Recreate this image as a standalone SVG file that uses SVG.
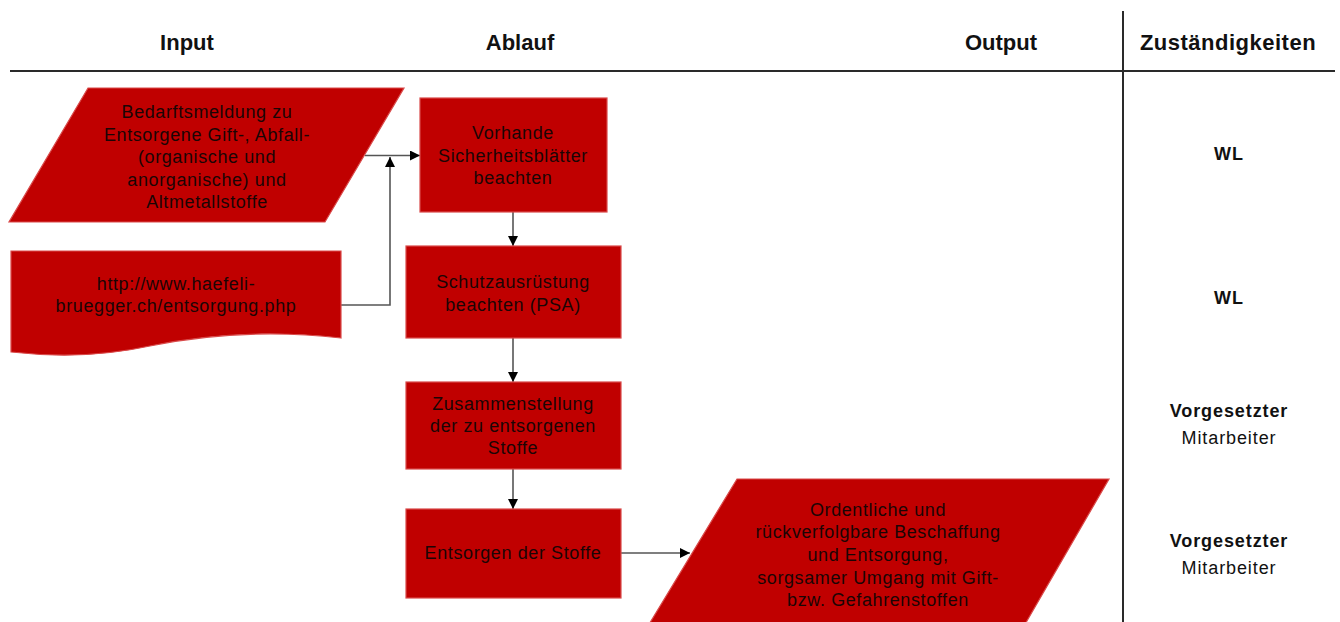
<svg xmlns="http://www.w3.org/2000/svg" width="1340" height="622" viewBox="0 0 1340 622">
  <style>
    .hdr { font-family: "Liberation Sans", Arial, sans-serif; font-weight: bold; font-size: 22px; fill: #111; text-anchor: middle; }
    .shape { fill: #c00000; stroke: #d94a4a; stroke-width: 1.2; }
    .lbl { font-family: "Liberation Sans", Arial, sans-serif; font-size: 18px; fill: #1a0505; text-anchor: middle; letter-spacing: 0.6px; }
    .role { font-family: "Liberation Sans", Arial, sans-serif; font-size: 18px; fill: #111; text-anchor: middle; letter-spacing: 0.9px; }
    .role b, .bold { font-weight: bold; }
    .grid { stroke: #2a2a2a; stroke-width: 2; fill: none; }
    .conn { stroke: #555; stroke-width: 1.6; fill: none; }
  </style>
  <defs>
    <marker id="arrow" viewBox="0 0 10 10" refX="10" refY="5" markerWidth="10" markerHeight="10" markerUnits="userSpaceOnUse" orient="auto">
      <path d="M0,0 L10,5 L0,10 Z" fill="#000"/>
    </marker>
  </defs>
  <rect width="1340" height="622" fill="#fff"/>

  <!-- table frame -->
  <g id="frame">
    <line class="grid" x1="10" y1="71" x2="1335" y2="71"/>
    <line class="grid" x1="1123" y1="11" x2="1123" y2="622"/>
    <text class="hdr" x="187" y="50">Input</text>
    <text class="hdr" x="520" y="50">Ablauf</text>
    <text class="hdr" x="1001" y="50">Output</text>
    <text class="hdr" x="1228" y="50" letter-spacing="0.5">Zuständigkeiten</text>
  </g>

  <!-- connectors -->
  <g id="connectors">
    <line class="conn" x1="365" y1="155.5" x2="420" y2="155.5" marker-end="url(#arrow)"/>
    <polyline class="conn" points="341,305 390,305 390,157" marker-end="url(#arrow)"/>
    <line class="conn" x1="513" y1="212" x2="513" y2="246" marker-end="url(#arrow)"/>
    <line class="conn" x1="513" y1="338" x2="513" y2="382" marker-end="url(#arrow)"/>
    <line class="conn" x1="513" y1="469" x2="513" y2="509" marker-end="url(#arrow)"/>
    <line class="conn" x1="621" y1="553" x2="690" y2="553" marker-end="url(#arrow)"/>
  </g>

  <!-- input: request -->
  <g id="input-request">
    <polygon class="shape" points="88,88 404,88 325,222 9,222"/>
    <text class="lbl" x="207" y="118">Bedarftsmeldung zu</text>
    <text class="lbl" x="207" y="141">Entsorgene Gift-, Abfall-</text>
    <text class="lbl" x="207" y="163">(organische und</text>
    <text class="lbl" x="207" y="186">anorganische) und</text>
    <text class="lbl" x="207" y="208">Altmetallstoffe</text>
  </g>

  <!-- input: web document -->
  <g id="input-document">
    <path class="shape" d="M11,251 H341 V338 C 270,330 210,334 150,346 C 100,357 55,357 11,352 Z"/>
    <text class="lbl" x="176" y="290">http://www.haefeli-</text>
    <text class="lbl" x="176" y="312">bruegger.ch/entsorgung.php</text>
  </g>

  <!-- process steps -->
  <g id="step-datasheets">
    <rect class="shape" x="420" y="98" width="187" height="114"/>
    <text class="lbl" x="513" y="139">Vorhande</text>
    <text class="lbl" x="513" y="162">Sicherheitsblätter</text>
    <text class="lbl" x="513" y="184">beachten</text>
  </g>

  <g id="step-ppe">
    <rect class="shape" x="406" y="246" width="215" height="92"/>
    <text class="lbl" x="513" y="288">Schutzausrüstung</text>
    <text class="lbl" x="513" y="311">beachten (PSA)</text>
  </g>

  <g id="step-collect">
    <rect class="shape" x="406" y="382" width="215" height="87"/>
    <text class="lbl" x="513" y="410">Zusammenstellung</text>
    <text class="lbl" x="513" y="432">der zu entsorgenen</text>
    <text class="lbl" x="513" y="454">Stoffe</text>
  </g>

  <g id="step-dispose">
    <rect class="shape" x="406" y="509" width="215" height="89"/>
    <text class="lbl" x="513" y="559">Entsorgen der Stoffe</text>
  </g>

  <!-- output -->
  <g id="output-result">
    <polygon class="shape" points="737,479 1109,479 1024,626 648,626"/>
    <text class="lbl" x="878" y="516">Ordentliche und</text>
    <text class="lbl" x="878" y="538">rückverfolgbare Beschaffung</text>
    <text class="lbl" x="878" y="561">und Entsorgung,</text>
    <text class="lbl" x="878" y="584">sorgsamer Umgang mit Gift-</text>
    <text class="lbl" x="878" y="606">bzw. Gefahrenstoffen</text>
  </g>

  <!-- responsibilities -->
  <g id="roles">
    <text class="role bold" x="1229" y="160">WL</text>
    <text class="role bold" x="1229" y="304">WL</text>
    <text class="role bold" x="1229" y="417">Vorgesetzter</text>
    <text class="role" x="1229" y="444" letter-spacing="1.3">Mitarbeiter</text>
    <text class="role bold" x="1229" y="547">Vorgesetzter</text>
    <text class="role" x="1229" y="574" letter-spacing="1.3">Mitarbeiter</text>
  </g>
</svg>
